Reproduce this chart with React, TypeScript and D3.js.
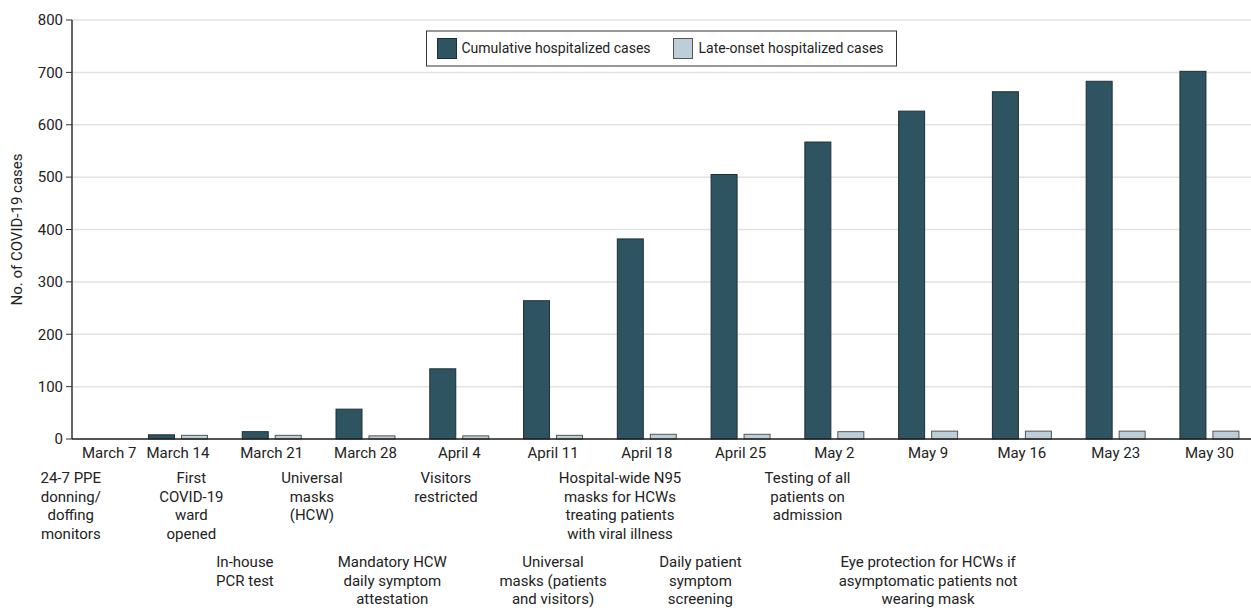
import * as React from 'react'
import * as d3 from 'd3'

const width = 1251
const height = 608
const margin = { top: 20, right: 0, bottom: 169, left: 72 }
const darkFill = '#2f5461'
const lightFill = '#bccfd9'
const textColor = '#222'
const font = 'Roboto, "Open Sans", sans-serif'

const weeks = [
  'March 7', 'March 14', 'March 21', 'March 28', 'April 4', 'April 11', 'April 18',
  'April 25', 'May 2', 'May 9', 'May 16', 'May 23', 'May 30',
]
const weekStart = '2020-03-07'
const weekEnd = '2020-05-30'
const cumulative = [0, 8, 14, 57, 134, 264, 382, 505, 567, 626, 663, 683, 702]
const lateOnset = [0, 7, 7, 6, 6, 7, 9, 9, 14, 15, 15, 15, 15]
const seriesNames = ['Cumulative hospitalized cases', 'Late-onset hospitalized cases']
const yTicks = [0, 100, 200, 300, 400, 500, 600, 700, 800]

// interventions, placed on the timeline by date
const eventDates = [
  '2020-03-06', '2020-03-15', '2020-03-24', '2020-04-03', '2020-04-16', '2020-04-30',
  '2020-03-19', '2020-03-30', '2020-04-11', '2020-04-22', '2020-05-09',
]
const eventRows = [0, 0, 0, 0, 0, 0, 1, 1, 1, 1, 1]
const eventLines = [
  ['24-7 PPE', 'donning/', 'doffing', 'monitors'],
  ['First', 'COVID-19', 'ward', 'opened'],
  ['Universal', 'masks', '(HCW)'],
  ['Visitors', 'restricted'],
  ['Hospital-wide N95', 'masks for HCWs', 'treating patients', 'with viral illness'],
  ['Testing of all', 'patients on', 'admission'],
  ['In-house', 'PCR test'],
  ['Mandatory HCW', 'daily symptom', 'attestation'],
  ['Universal', 'masks (patients', 'and visitors)'],
  ['Daily patient', 'symptom', 'screening'],
  ['Eye protection for HCWs if', 'asymptomatic patients not', 'wearing mask'],
]

const App = () => {
  const parse = d3.timeParse('%Y-%m-%d')
  const plotBottom = height - margin.bottom
  const step = 93.77
  const x0Start = 37.3

  const x0 = d3
    .scaleBand()
    .domain(weeks)
    .range([x0Start, x0Start + step * weeks.length])
    .paddingInner(0.371)
    .paddingOuter(0.1855)
  const x1 = d3
    .scaleBand()
    .domain(seriesNames)
    .range([0, x0.bandwidth()])
    .paddingInner(0.212)
  const y = d3.scaleLinear().domain([0, 800]).range([plotBottom, margin.top])

  const center = (w: string) => (x0(w) as number) + x0.bandwidth() / 2
  const xTime = d3
    .scaleTime()
    .domain([parse(weekStart) as Date, parse(weekEnd) as Date])
    .range([center(weeks[0]), center(weeks[weeks.length - 1])])

  const values = [cumulative, lateOnset]
  const fills = [darkFill, lightFill]
  const strokes = ['#1f2e35', '#555']

  // legend
  const legendW = 470
  const legendX = (margin.left + width) / 2 - legendW / 2
  const legendY = 31

  return (
    <svg
      width={width}
      height={height}
      style={{ position: 'absolute', left: 0, top: 0, background: '#fff' }}
      fontFamily={font}
    >
      {yTicks.map(t => (
        <g key={t}>
          <line x1={margin.left} x2={width} y1={y(t)} y2={y(t)} stroke="#e2e2e2" strokeWidth={1.5} />
          <line x1={margin.left - 6} x2={margin.left} y1={y(t)} y2={y(t)} stroke="#333" />
          <text x={margin.left - 9} y={y(t)} dy="0.35em" textAnchor="end" fontSize={15} fill={textColor}>
            {t}
          </text>
        </g>
      ))}

      {weeks.map((w, i) =>
        seriesNames.map((s, j) => {
          const v = values[j][i]
          if (!v) return null
          return (
            <rect
              key={w + s}
              x={(x0(w) as number) + (x1(s) as number)}
              y={y(v)}
              width={x1.bandwidth()}
              height={plotBottom - y(v)}
              fill={fills[j]}
              stroke={strokes[j]}
              strokeWidth={1}
            />
          )
        })
      )}

      <line x1={margin.left} x2={margin.left} y1={margin.top} y2={plotBottom} stroke="#333" strokeWidth={1.5} />
      <line x1={margin.left} x2={width} y1={plotBottom} y2={plotBottom} stroke="#222" strokeWidth={1.5} />

      {weeks.map(w => {
        const c = center(w)
        const clampLeft = c - 30 < margin.left + 10
        return (
          <text
            key={w}
            x={clampLeft ? margin.left + 10 : c}
            y={plotBottom + 19}
            textAnchor={clampLeft ? 'start' : 'middle'}
            fontSize={15}
            fill={textColor}
          >
            {w}
          </text>
        )
      })}

      <text
        transform={`translate(17, ${(margin.top + plotBottom) / 2}) rotate(-90)`}
        textAnchor="middle"
        dy="0.35em"
        fontSize={15}
        fill={textColor}
      >
        No. of COVID-19 cases
      </text>

      {eventDates.map((d, i) => {
        const cx = xTime(parse(d) as Date)
        const baseY = eventRows[i] === 0 ? 483 : 567
        return (
          <text key={d + i} textAnchor="middle" fontSize={15} fill={textColor}>
            {eventLines[i].map((line, k) => (
              <tspan key={k} x={cx} y={baseY + k * 18.5}>
                {line}
              </tspan>
            ))}
          </text>
        )
      })}

      <g transform={`translate(${legendX}, ${legendY})`}>
        <rect width={legendW} height={35} fill="#fff" stroke="#333" strokeWidth={1} />
        <rect x={11} y={7.5} width={19} height={20} fill={darkFill} stroke="#1f2e35" />
        <text x={35} y={17.5} dy="0.35em" fontSize={14} fill={textColor}>
          {seriesNames[0]}
        </text>
        <rect x={247} y={7.5} width={19} height={20} fill={lightFill} stroke="#555" />
        <text x={272} y={17.5} dy="0.35em" fontSize={14} fill={textColor}>
          {seriesNames[1]}
        </text>
      </g>
    </svg>
  )
}

export default App
